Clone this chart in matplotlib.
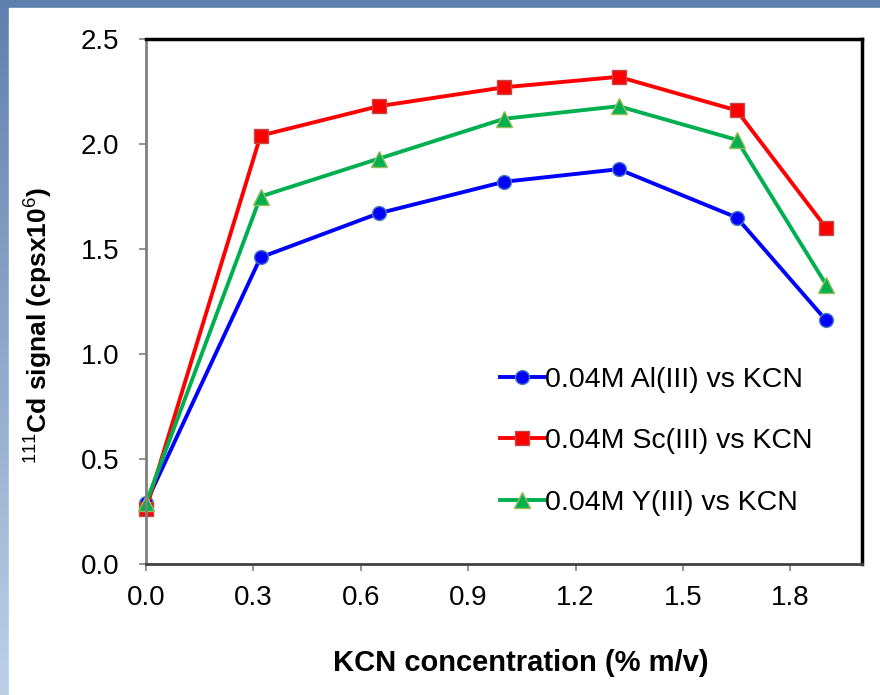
import numpy as np
import matplotlib
matplotlib.use("Agg")
import matplotlib.pyplot as plt
from matplotlib.patches import Rectangle

plt.rcParams['font.family'] = ['Liberation Sans', 'DejaVu Sans']
plt.rcParams['mathtext.fontset'] = 'custom'
plt.rcParams['mathtext.rm'] = 'Liberation Sans'
plt.rcParams['mathtext.bf'] = 'Liberation Sans:bold'

kcn = [0.0, 0.32, 0.65, 1.0, 1.32, 1.65, 1.9]
al = [0.29, 1.46, 1.67, 1.82, 1.88, 1.65, 1.16]
sc = [0.26, 2.04, 2.18, 2.27, 2.32, 2.16, 1.60]
y3 = [0.29, 1.75, 1.93, 2.12, 2.18, 2.02, 1.33]
labels = ["0.04M Al(III) vs KCN", "0.04M Sc(III) vs KCN", "0.04M Y(III) vs KCN"]

fig = plt.figure(figsize=(8.8, 6.95), dpi=100)

# blue slide frame behind the chart
bg = fig.add_axes([0, 0, 1, 1], zorder=-10)
grad = np.linspace(0, 1, 256).reshape(-1, 1)
bg.imshow(grad, aspect='auto', extent=[0, 1, 0, 1],
          cmap=matplotlib.colors.LinearSegmentedColormap.from_list('f', ['#bcd0e8', '#5f80ae']),
          origin='lower')
bg.add_patch(Rectangle((9 / 880, 0), 1, 1 - 8 / 695, color='white', transform=bg.transAxes))
bg.axis('off')

ax = fig.add_axes([146 / 880, 1 - 564 / 695, 716 / 880, 525 / 695])
ax.plot(kcn, al, color='#0000ff', lw=2.8, marker='o', ms=10,
        mfc='#0000ff', mec='#4a7ebb', mew=1, label=labels[0], clip_on=False)
ax.plot(kcn, sc, color='#ff0000', lw=2.8, marker='s', ms=10,
        mfc='#ff0000', mec='#be4b48', mew=1, label=labels[1], clip_on=False)
ax.plot(kcn, y3, color='#00b050', lw=2.8, marker='^', ms=11,
        mfc='#00b050', mec='#9bbb59', mew=1, label=labels[2], clip_on=False)

ax.set_xlim(0, 2.0)
ax.set_ylim(0, 2.5)
ax.set_xticks([0.0, 0.3, 0.6, 0.9, 1.2, 1.5, 1.8])
ax.set_xticklabels(["0.0", "0.3", "0.6", "0.9", "1.2", "1.5", "1.8"])
ax.set_yticks([0.0, 0.5, 1.0, 1.5, 2.0, 2.5])
ax.set_yticklabels(["0.0", "0.5", "1.0", "1.5", "2.0", "2.5"])
ax.tick_params(labelsize=20, length=5, width=1.2, color='#808080')
ax.tick_params(axis='y', pad=14)
ax.tick_params(axis='x', pad=10)

ax.spines['left'].set_color('#808080')
ax.spines['left'].set_linewidth(2)
ax.spines['bottom'].set_color('#404040')
ax.spines['bottom'].set_linewidth(2)
ax.spines['top'].set_linewidth(2.5)
ax.spines['right'].set_linewidth(2.5)

ax.set_xlabel("KCN concentration (% m/v)", fontsize=21, fontweight='bold')
ax.xaxis.set_label_coords(0.524, -0.161)
ax.set_ylabel(r"$^{111}$Cd signal (cpsx10$^{6}$)", fontsize=19, fontweight='bold')
ax.yaxis.set_label_coords(-0.128, 0.455)

ax.legend(loc='lower left', bbox_to_anchor=(0.494, 0.0915), frameon=False, fontsize=20.5,
          handlelength=1.6, handletextpad=0.0, labelspacing=1.25, borderaxespad=0,
          borderpad=0)

fig.savefig("out.png", dpi=100)
